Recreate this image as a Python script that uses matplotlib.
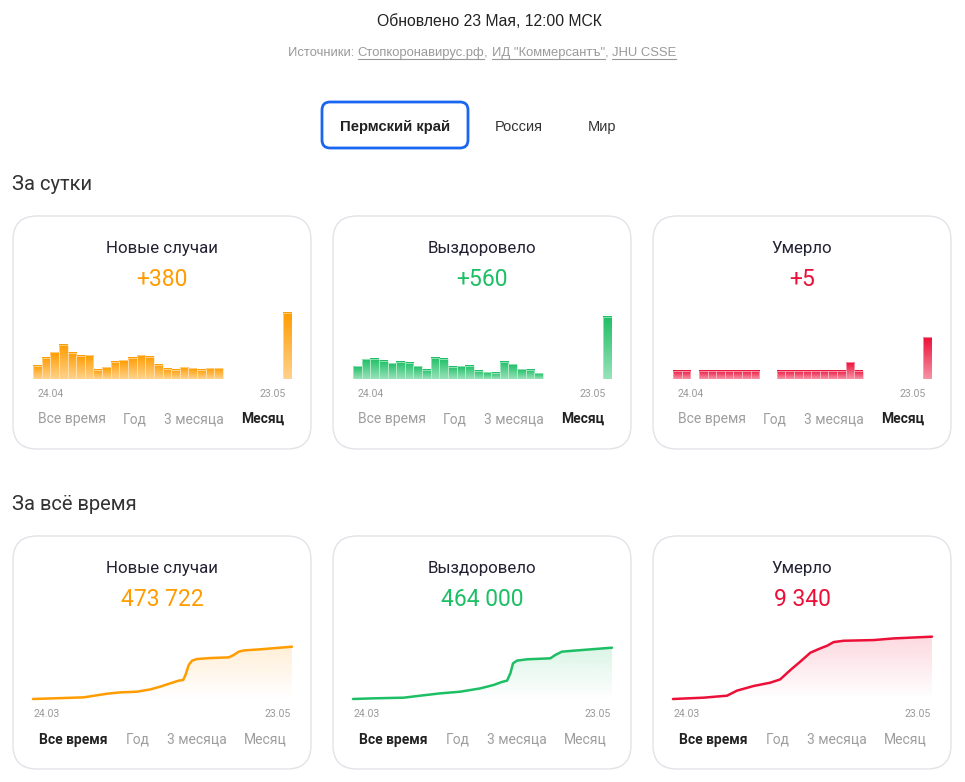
import matplotlib
matplotlib.use('Agg')
import matplotlib.pyplot as plt
import numpy as np
from matplotlib.patches import FancyBboxPatch
from matplotlib.transforms import IdentityTransform
from matplotlib.colors import to_rgb

W, H = 965, 782
plt.rcParams['font.family'] = ['Roboto', 'DejaVu Sans']

# ---- data ----
titles = ['Новые случаи', 'Выздоровело', 'Умерло']
colors = ['#ff9c00', '#1dbf65', '#ec1039']

day_values = ['+380', '+560', '+5']
total_values = ['473 722', '464 000', '9 340']

# daily numbers, 24.04 .. 23.05 (0 = no data)
daily_new = [77, 123, 155, 196, 150, 134, 138, 54, 69, 98, 107, 123, 138, 128, 81, 58,
             52, 69, 63, 54, 63, 61, 0, 0, 0, 0, 0, 0, 0, 380]
daily_recovered = [114, 178, 181, 166, 144, 154, 148, 114, 84, 193, 184, 111, 117, 120, 75, 63,
                   57, 154, 135, 90, 84, 51, 0, 0, 0, 0, 0, 0, 0, 560]
daily_deaths = [1, 1, 0, 1, 1, 1, 1, 1, 1, 1, 0, 0, 1, 1, 1, 1,
                1, 1, 1, 1, 2, 1, 0, 0, 0, 0, 0, 0, 0, 5]
daily_ymax = [403, 632, 8.4]

# cumulative totals (thousands), day offset from 24.03
new_days = [0, 63, 155, 226, 266, 317, 358, 388, 419, 444, 458, 465, 475, 485, 500, 541,
            597, 612, 627, 643, 693, 790]
new_total = [0, 6, 15, 48, 60, 66, 87, 112, 142, 166, 172, 217, 308, 347, 362, 371,
             377, 398, 428, 440, 450, 473.722]
rec_days = [0, 63, 155, 205, 266, 327, 388, 429, 454, 470, 480, 488, 500, 531, 602, 617,
            637, 673, 790]
rec_total = [0, 6, 12, 30, 51, 66, 96, 127, 154, 166, 232, 322, 347, 359, 368, 398,
             428, 437, 464]
death_days = [0, 94, 165, 195, 246, 297, 327, 358, 388, 419, 449, 470, 490, 521, 612, 673, 790]
death_total = [0, 0.2, 0.5, 1.25, 1.95, 2.45, 2.94, 4.34, 5.59, 6.94, 7.58, 7.98, 8.53, 8.73,
               8.83, 9.08, 9.34]
total_ymax = [634, 633, 10.49]

tabs = ['Все время', 'Год', '3 месяца', 'Месяц']

fig = plt.figure(figsize=(W / 100, H / 100), dpi=100)
fig.patch.set_facecolor('white')
T = IdentityTransform()


def txt(x, y, s, **kw):
    return fig.text(x, H - y, s, transform=T, **kw)


def lighten(c, f):
    r = np.array(to_rgb(c))
    return tuple(r + (1 - r) * f)


# ---- header ----
head = ['Liberation Sans', 'DejaVu Sans']
txt(489, 22, 'Обновлено 23 Мая, 12:00 МСК', ha='center', va='center', fontsize=11.3,
    color='#222222', family=head)

parts = [('Источники: ', False), ('Стопкоронавирус.рф', True), (', ', False),
         ('ИД "Коммерсантъ"', True), (', ', False), ('JHU CSSE', True)]
fig.canvas.draw()
rend = fig.canvas.get_renderer()
widths = []
for s, u in parts:
    t = txt(0, 53, s, fontsize=9.4, va='center', family=head)
    widths.append(t.get_window_extent(rend).width)
    t.remove()
x = 482 - sum(widths) / 2
for (s, u), w in zip(parts, widths):
    txt(x, 53, s, fontsize=9.4, va='center', color='#9a9a9a', family=head)
    if u:
        fig.add_artist(plt.Line2D([x, x + w], [H - 59, H - 59], transform=T, color='#9a9a9a', lw=0.8))
    x += w

btn = FancyBboxPatch((322, H - 148), 146, 46, boxstyle='round,pad=0,rounding_size=8',
                     transform=T, fc='white', ec='#1a66f0', lw=2)
fig.add_artist(btn)
txt(395, 127, 'Пермский край', ha='center', va='center', fontsize=10.7, fontweight='bold',
    color='#222222', family=head)
txt(519, 127, 'Россия', ha='center', va='center', fontsize=10.5, color='#333333', family=head)
txt(602, 127, 'Мир', ha='center', va='center', fontsize=10.5, color='#333333', family=head)

txt(12, 185, 'За сутки', va='center', fontsize=14.5, color='#333333')
txt(12, 504, 'За всё время', va='center', fontsize=14.5, color='#333333')

tab_x = [72, 135, 194, 263]
tab_x2 = [73, 138, 197, 265]

for row in range(2):
    dy = row * 320
    for k in range(3):
        dx = k * 320
        c = colors[k]
        card = FancyBboxPatch((13 + dx, H - 449 - dy), 298, 233, boxstyle='round,pad=0,rounding_size=24',
                              transform=T, fc='white', ec='#e2e3e8', lw=1, zorder=-1)
        fig.add_artist(card)
        txt(162 + dx, 248 + dy, titles[k], ha='center', va='center', fontsize=12.2, color='#222233')
        val = day_values[k] if row == 0 else total_values[k]
        txt(162 + dx, 280 + dy, val, ha='center', va='center', fontsize=16.5, color=c)

        ax = fig.add_axes([(33 + dx) / W, (H - 379 - dy) / H, 259 / W, 70 / H])
        ax.axis('off')
        ax.set_facecolor('none')
        if row == 0:
            vals = [daily_new, daily_recovered, daily_deaths][k]
            light = lighten(c, 0.55)
            for i, v in enumerate(vals):
                if v <= 0:
                    continue
                g = np.linspace(0, 1, 64)
                top = np.array(to_rgb(c))
                bot = np.array(light)
                img = bot[None, :] + (top - bot)[None, :] * g[:, None]
                ax.imshow(img[:, None, :], extent=(i - 0.5, i + 0.5, 0, v), origin='lower',
                          aspect='auto', interpolation='bilinear', zorder=1)
            ax.bar(range(len(vals)), vals, width=1.0, fill=False,
                   edgecolor=lighten(c, 0.7), lw=0.5, zorder=2)
            ax.set_xlim(-0.5, len(vals) - 0.5)
            ax.set_ylim(0, daily_ymax[k])
            lab = ['24.04', '23.05']
            lx = [37 + dx, 286 + dx]
            ly = 394 + dy
            active = 3
            tx = tab_x
        else:
            days = [new_days, rec_days, death_days][k]
            tot = [new_total, rec_total, death_total][k]
            poly = ax.fill_between(days, tot, 0, color='none', lw=0)
            g = np.linspace(0, 1, 128)
            rgba = np.zeros((128, 1, 4))
            rgba[:, 0, :3] = to_rgb(c)
            rgba[:, 0, 3] = 0.16 * g
            im = ax.imshow(rgba, extent=(0, 790, 0, max(tot)), origin='lower', aspect='auto',
                           interpolation='bilinear', zorder=1)
            im.set_clip_path(poly.get_paths()[0], transform=ax.transData)
            ax.plot(days, tot, color=c, lw=1.8, solid_capstyle='round', clip_on=False, zorder=3)
            ax.set_xlim(0, 790)
            ax.set_ylim(0, total_ymax[k])
            lab = ['24.03', '23.05']
            lx = [33 + dx, 291 + dx]
            ly = 714 - 320 + dy
            active = 0
            tx = tab_x2
        txt(lx[0], ly, lab[0], ha='left', va='center', fontsize=7.6, color='#9a9a9a')
        txt(lx[1], ly, lab[1], ha='right', va='center', fontsize=7.6, color='#9a9a9a')
        for j, name in enumerate(tabs):
            txt(tx[j] + dx, 419 + dy + (1 if row else 0), name, ha='center', va='center', fontsize=10,
                color='#222222' if j == active else '#9e9e9e',
                fontweight='bold' if j == active else 'normal')

fig.savefig('out.png', dpi=100, facecolor='white')
